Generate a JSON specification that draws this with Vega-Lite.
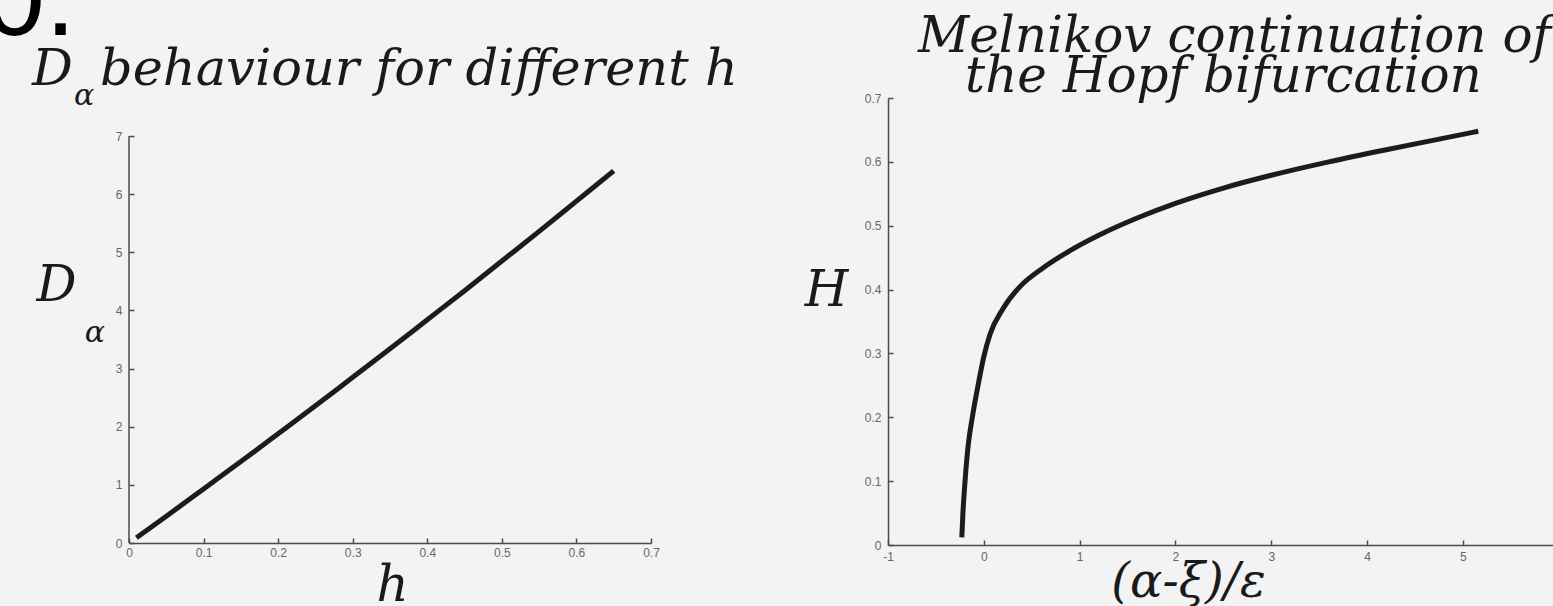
{
  "$schema": "https://vega.github.io/schema/vega-lite/v6.json",
  "background": "#f3f3f3",
  "autosize": {"type": "pad"},
  "padding": {"left": -16, "top": -53, "right": 0, "bottom": 0},
  "spacing": 237,
  "bounds": "flush",
  "config": {
    "view": {"stroke": null},
    "locale": {"number": {"decimal": ".", "thousands": ",", "grouping": [3], "currency": ["$", ""], "minus": "-"}},
    "axis": {
      "grid": false,
      "domainColor": "#4a4a4a",
      "domainWidth": 1.5,
      "tickColor": "#4a4a4a",
      "tickWidth": 1.5,
      "tickSize": -5,
      "labelFont": "Liberation Sans",
      "labelFontSize": 12,
      "labelColor": "#666666",
      "labelFlush": false,
      "titleFont": "DejaVu Serif",
      "titleFontStyle": "italic",
      "titleFontWeight": "normal",
      "titleFontSize": 50,
      "titleColor": "#1a1a1a",
      "titleAngle": 0,
      "titleAlign": "center",
      "titleBaseline": "alphabetic",
      "format": "~g"
    }
  },
  "datasets": {
    "dalpha": [
      {"h": 0.01, "D": 0.09},
      {"h": 0.05, "D": 0.46},
      {"h": 0.10, "D": 0.93},
      {"h": 0.15, "D": 1.40},
      {"h": 0.20, "D": 1.88},
      {"h": 0.25, "D": 2.36},
      {"h": 0.30, "D": 2.85},
      {"h": 0.35, "D": 3.34},
      {"h": 0.40, "D": 3.84},
      {"h": 0.45, "D": 4.34},
      {"h": 0.50, "D": 4.85},
      {"h": 0.55, "D": 5.36},
      {"h": 0.60, "D": 5.88},
      {"h": 0.65, "D": 6.40}
    ],
    "hopf": [
      {"v": -0.23, "H": 0.012},
      {"v": -0.218, "H": 0.05},
      {"v": -0.196, "H": 0.10},
      {"v": -0.16, "H": 0.16},
      {"v": -0.12, "H": 0.20},
      {"v": -0.06, "H": 0.25},
      {"v": 0.0, "H": 0.295},
      {"v": 0.065, "H": 0.33},
      {"v": 0.2, "H": 0.37},
      {"v": 0.38, "H": 0.405},
      {"v": 0.6, "H": 0.432},
      {"v": 0.9, "H": 0.461},
      {"v": 1.2, "H": 0.485},
      {"v": 1.6, "H": 0.512},
      {"v": 2.0, "H": 0.535},
      {"v": 2.5, "H": 0.559},
      {"v": 3.0, "H": 0.579},
      {"v": 3.6, "H": 0.600},
      {"v": 4.2, "H": 0.619},
      {"v": 4.7, "H": 0.634},
      {"v": 5.16, "H": 0.648}
    ]
  },
  "hconcat": [
    {
      "width": 522,
      "height": 445,
      "layer": [
        {
          "data": {"name": "dalpha"},
          "mark": {"type": "line", "color": "#1c1c1c", "strokeWidth": 5, "strokeCap": "butt", "interpolate": "monotone"},
          "encoding": {
            "x": {
              "field": "h", "type": "quantitative",
              "scale": {"domain": [0, 0.7], "nice": false, "zero": false},
              "axis": {"values": [0, 0.1, 0.2, 0.3, 0.4, 0.5, 0.6, 0.7], "title": "h", "titleX": 263, "titleY": 57, "labelPadding": 9}
            },
            "y": {
              "field": "D", "type": "quantitative",
              "scale": {"domain": [0, 7.654], "nice": false, "zero": false},
              "axis": {"values": [0, 1, 2, 3, 4, 5, 6, 7], "domain": false, "title": "D", "titleX": -73, "titleY": 202, "labelPadding": 12}
            }
          }
        },
        {
          "data": {"values": [{}]},
          "mark": {"type": "rule", "color": "#4a4a4a", "strokeWidth": 1.5},
          "encoding": {
            "x": {"datum": 0, "type": "quantitative"},
            "y": {"datum": 0, "type": "quantitative"},
            "y2": {"datum": 7}
          }
        },
        {
          "data": {"values": [{}]},
          "mark": {"type": "text", "text": "D", "font": "DejaVu Serif", "fontStyle": "italic", "fontSize": 51, "align": "left", "baseline": "alphabetic", "color": "#1a1a1a"},
          "encoding": {"x": {"datum": -0.1301, "type": "quantitative"}, "y": {"datum": 7.877, "type": "quantitative"}}
        },
        {
          "data": {"values": [{}]},
          "mark": {"type": "text", "text": "α", "font": "DejaVu Serif", "fontStyle": "italic", "fontSize": 30, "align": "center", "baseline": "alphabetic", "color": "#1a1a1a"},
          "encoding": {"x": {"datum": -0.0603, "type": "quantitative"}, "y": {"datum": 7.533, "type": "quantitative"}}
        },
        {
          "data": {"values": [{}]},
          "mark": {"type": "text", "text": "behaviour for different h", "font": "DejaVu Serif", "fontStyle": "italic", "fontSize": 51, "align": "left", "baseline": "alphabetic", "color": "#1a1a1a"},
          "encoding": {"x": {"datum": -0.0389, "type": "quantitative"}, "y": {"datum": 7.877, "type": "quantitative"}}
        },
        {
          "data": {"values": [{}]},
          "mark": {"type": "text", "text": "α", "font": "DejaVu Serif", "fontStyle": "italic", "fontSize": 30, "align": "center", "baseline": "alphabetic", "color": "#1a1a1a"},
          "encoding": {"x": {"datum": -0.0456, "type": "quantitative"}, "y": {"datum": 3.457, "type": "quantitative"}}
        },
        {
          "data": {"values": [{}]},
          "mark": {"type": "text", "text": "0.", "font": "Liberation Sans", "fontSize": 110, "align": "left", "baseline": "alphabetic", "color": "#000000"},
          "encoding": {"x": {"datum": -0.1944, "type": "quantitative"}, "y": {"datum": 8.737, "type": "quantitative"}}
        }
      ]
    },
    {
      "width": 665,
      "height": 447,
      "layer": [
        {
          "data": {"name": "hopf"},
          "mark": {"type": "line", "color": "#1c1c1c", "strokeWidth": 5, "strokeCap": "butt", "interpolate": "monotone"},
          "encoding": {
            "x": {
              "field": "v", "type": "quantitative",
              "scale": {"domain": [-1, 5.94], "nice": false, "zero": false},
              "axis": {"values": [-1, 0, 1, 2, 3, 4, 5], "title": "(α-ξ)/ε", "titleFontSize": 48, "titleX": 300, "titleY": 51, "labelPadding": 11}
            },
            "y": {
              "field": "H", "type": "quantitative",
              "scale": {"domain": [0, 0.7], "nice": false, "zero": false},
              "axis": {"values": [0, 0.1, 0.2, 0.3, 0.4, 0.5, 0.6, 0.7], "title": "H", "titleX": -62, "titleY": 207, "labelPadding": 12}
            }
          }
        },
        {
          "data": {"values": [{}]},
          "mark": {"type": "text", "text": "Melnikov continuation of", "font": "DejaVu Serif", "fontStyle": "italic", "fontSize": 50, "align": "left", "baseline": "alphabetic", "color": "#1a1a1a"},
          "encoding": {"x": {"datum": -0.687, "type": "quantitative"}, "y": {"datum": 0.772, "type": "quantitative"}}
        },
        {
          "data": {"values": [{}]},
          "mark": {"type": "text", "text": "the Hopf bifurcation", "font": "DejaVu Serif", "fontStyle": "italic", "fontSize": 50, "align": "left", "baseline": "alphabetic", "color": "#1a1a1a"},
          "encoding": {"x": {"datum": -0.196, "type": "quantitative"}, "y": {"datum": 0.709, "type": "quantitative"}}
        }
      ]
    }
  ]
}
